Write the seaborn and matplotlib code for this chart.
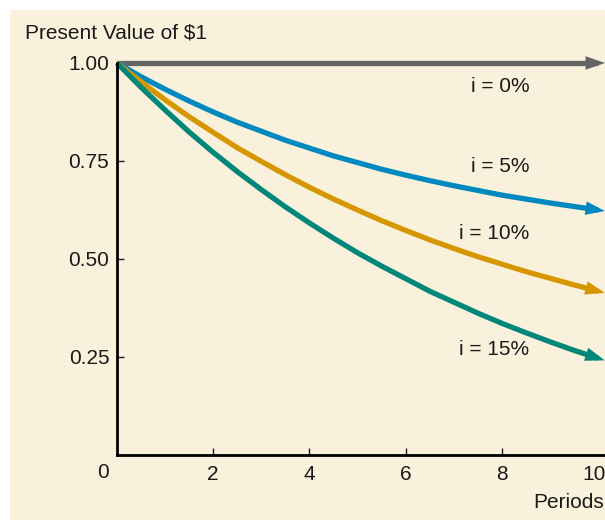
import numpy as np
import pandas as pd
import matplotlib
matplotlib.use("Agg")
import matplotlib.pyplot as plt
import seaborn as sns
from matplotlib.transforms import ScaledTranslation
from matplotlib.patches import Rectangle

# ---------------- data (every half period) ----------------
periods = [0, 0.5, 1, 1.5, 2, 2.5, 3, 3.5, 4, 4.5, 5,
           5.5, 6, 6.5, 7, 7.5, 8, 8.5, 9, 9.5, 10]
pv_0 = [1.000] * 21
pv_5 = [1.000, 0.965, 0.933, 0.903, 0.875, 0.849, 0.826, 0.803, 0.783, 0.763, 0.746,
        0.729, 0.714, 0.700, 0.687, 0.675, 0.663, 0.653, 0.643, 0.634, 0.625]
pv_10 = [1.000, 0.952, 0.906, 0.863, 0.823, 0.784, 0.749, 0.715, 0.683, 0.653, 0.625,
         0.598, 0.573, 0.549, 0.527, 0.506, 0.487, 0.468, 0.451, 0.434, 0.418]
pv_15 = [1.000, 0.938, 0.880, 0.824, 0.772, 0.723, 0.677, 0.633, 0.592, 0.553, 0.516,
         0.482, 0.450, 0.418, 0.390, 0.362, 0.336, 0.312, 0.289, 0.267, 0.247]
rate_labels = ["i = 0%", "i = 5%", "i = 10%", "i = 15%"]
x_ticks = [2, 4, 6, 8, 10]
x_tick_labels = ["2", "4", "6", "8", "10"]
y_ticks = [0.25, 0.50, 0.75, 1.00]
y_tick_labels = ["0.25", "0.50", "0.75", "1.00"]
y_title = "Present Value of $1"
x_title = "Periods"

# ---------------- style ----------------
colors = ["#656565", "#0089BF", "#D69600", "#00877A"]
BG = "#FAF1DC"
TXT = "#1a1a1a"
FS = 15

sns.set_theme(style="white")
plt.rcParams["font.family"] = ["Liberation Sans", "DejaVu Sans"]

W, H = 605, 520
fig = plt.figure(figsize=(W / 100, H / 100), dpi=100, facecolor="white")
bg = Rectangle((10 / W, 0), 1 - 10 / W, 1 - 10 / H,
               transform=fig.transFigure, facecolor=BG,
               edgecolor="none", zorder=-10)
fig.add_artist(bg)

ax_left, ax_right, ax_bottom, ax_top = 117, 605, 455, 63
ax = fig.add_axes([ax_left / W, (H - ax_bottom) / H,
                   (ax_right - ax_left) / W, (ax_bottom - ax_top) / H])
ax.set_facecolor("none")
ax.set_zorder(1)

series = [pv_0, pv_5, pv_10, pv_15]
df = pd.DataFrame({
    "Periods": periods * len(series),
    "PV": sum(series, []),
    "rate": np.repeat(rate_labels, len(periods)),
})
sns.lineplot(data=df, x="Periods", y="PV", hue="rate", hue_order=rate_labels,
             palette=dict(zip(rate_labels, colors)), linewidth=3.8,
             legend=False, ax=ax, clip_on=False, estimator=None, sort=False,
             solid_capstyle="butt", solid_joinstyle="round")

ax.set_xlim(0, 10.146)
ax.set_ylim(0, 1.0)
ax.set_xlabel("")
ax.set_ylabel("")

# spines
for s in ["top", "right"]:
    ax.spines[s].set_visible(False)
for s in ["left", "bottom"]:
    ax.spines[s].set_color("black")
    ax.spines[s].set_linewidth(2.0)
    ax.spines[s].set_zorder(5)

ax.set_xticks(x_ticks)
ax.set_xticklabels(x_tick_labels)
ax.set_yticks(y_ticks)
ax.set_yticklabels(y_tick_labels)
ax.tick_params(axis="x", direction="in", length=5, width=1, pad=7,
               labelsize=FS, colors=TXT, bottom=True)
ax.tick_params(axis="y", direction="in", length=5, width=1, pad=5.5,
               labelsize=FS, colors=TXT, left=True)
ax.xaxis.get_major_ticks()[-1].tick1line.set_visible(False)
lab10 = ax.get_xticklabels()[-1]
lab10.set_transform(lab10.get_transform() +
                    ScaledTranslation(-4 / 100, 0, fig.dpi_scale_trans))

# corner "0"
ax.text(0, 0, "0", transform=ax.transData +
        ScaledTranslation(-14 / 100, -17 / 100, fig.dpi_scale_trans),
        ha="center", va="center", fontsize=FS, color=TXT)

# titles
fig.text(25 / W, 1 - 33 / H, y_title, ha="left", va="center",
         fontsize=FS, color=TXT)
fig.text(604 / W, 1 - 503 / H, x_title, ha="right", va="center",
         fontsize=FS, color=TXT)

# arrowheads at the end of each line
for vals, c in zip(series, colors):
    p1 = ax.transData.transform((periods[-2], vals[-2]))
    p2 = ax.transData.transform((periods[-1], vals[-1]))
    u = (p2 - p1) / np.hypot(*(p2 - p1))
    tip = p2 + u * 7
    tail = tip - u * 21
    ax.annotate("", xy=tuple(tip), xycoords="figure pixels",
                xytext=tuple(tail), textcoords="figure pixels",
                arrowprops=dict(arrowstyle="-|>,head_length=14,head_width=4.9",
                                mutation_scale=1, color=c, lw=0,
                                shrinkA=0, shrinkB=0), zorder=6)

# series labels (layout positions in data units)
label_pos = [(7.96, 0.939), (7.96, 0.735), (7.84, 0.564), (7.84, 0.268)]
for txt, (lx, ly) in zip(rate_labels, label_pos):
    ax.text(lx, ly, txt, ha="center", va="center", fontsize=FS, color=TXT)

fig.savefig("out.png", dpi=100, facecolor=fig.get_facecolor())
